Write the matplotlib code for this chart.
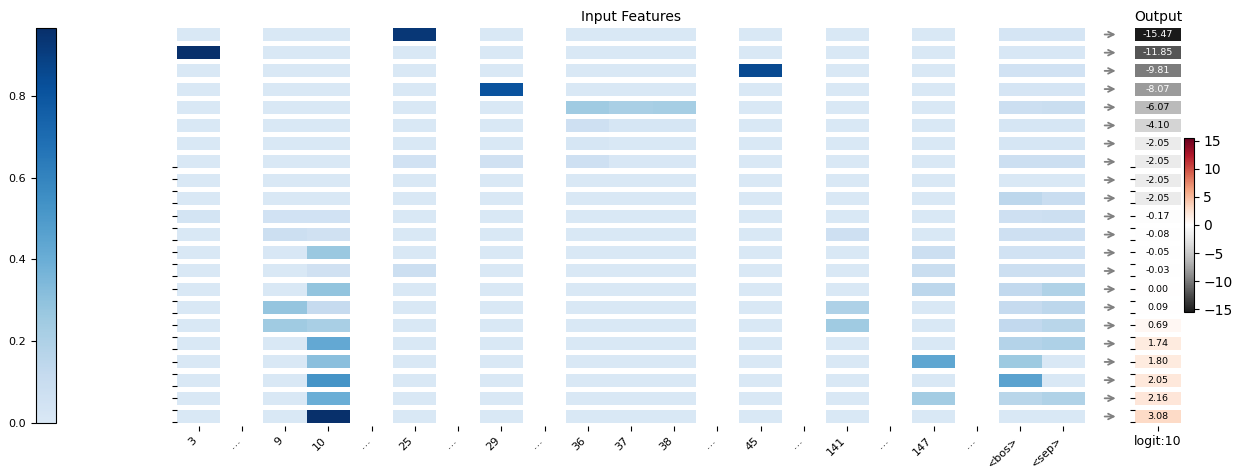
import numpy as np
import matplotlib
matplotlib.use("Agg")
import matplotlib.pyplot as plt
from matplotlib.colors import ListedColormap, Normalize
from matplotlib.colorbar import ColorbarBase

# feature activations per output row (22 rows, top to bottom)
col_labels = ["3", "…", "9", "10", "…", "25", "…", "29", "…", "36", "37", "38",
              "…", "45", "…", "141", "…", "147", "…", "<bos>", "<sep>"]

f3 = [0, 0.966, 0, 0, 0, 0, 0, 0, 0, 0, 0.04, 0, 0, 0, 0, 0, 0, 0, 0, 0, 0, 0]
f9 = [0, 0, 0, 0, 0, 0, 0, 0, 0, 0, 0.05, 0.08, 0.01, 0, 0, 0.28, 0.25, 0, 0, 0, 0, 0]
f10 = [0, 0, 0, 0, 0, 0, 0, 0, 0, 0, 0.05, 0.06, 0.27, 0.06, 0.29, 0.12, 0.22, 0.43, 0.31, 0.53, 0.40, 0.966]
f25 = [0.93, 0, 0, 0, 0, 0, 0, 0.05, 0, 0, 0, 0, 0, 0.08, 0, 0, 0, 0, 0, 0, 0, 0]
f29 = [0, 0, 0, 0.81, 0, 0, 0, 0.06, 0, 0, 0, 0, 0, 0, 0, 0, 0, 0, 0, 0, 0, 0]
f36 = [0, 0, 0, 0, 0.25, 0.07, 0.02, 0.07, 0, 0, 0, 0, 0, 0, 0, 0, 0, 0, 0, 0, 0, 0]
f37 = [0, 0, 0, 0, 0.22, 0.02, 0, 0.01, 0, 0, 0, 0, 0, 0, 0, 0, 0, 0, 0, 0, 0, 0]
f38 = [0, 0, 0, 0, 0.23, 0.02, 0, 0.01, 0, 0, 0, 0, 0, 0, 0, 0, 0, 0, 0, 0, 0, 0]
f45 = [0, 0, 0.85, 0, 0, 0, 0, 0, 0, 0, 0, 0, 0, 0, 0, 0, 0, 0, 0, 0, 0, 0]
f141 = [0, 0, 0, 0, 0, 0, 0, 0, 0, 0, 0, 0.07, 0, 0, 0, 0.20, 0.25, 0, 0, 0, 0, 0]
f147 = [0, 0, 0, 0, 0, 0, 0, 0, 0, 0, 0, 0, 0.08, 0.09, 0.15, 0, 0, 0, 0.44, 0, 0.24, 0]
f_bos = [0.03, 0.01, 0.05, 0.03, 0.08, 0.02, 0.02, 0.08, 0, 0.15, 0.07, 0.07,
         0.05, 0.08, 0.13, 0.12, 0.13, 0.18, 0.26, 0.46, 0.16, 0]
f_sep = [0.03, 0.01, 0.05, 0.03, 0.09, 0.02, 0.02, 0.08, 0, 0.10, 0.08, 0.07,
         0.05, 0.08, 0.19, 0.15, 0.16, 0.20, 0, 0, 0.19, 0]

logits = [-15.47, -11.85, -9.81, -8.07, -6.07, -4.10, -2.05, -2.05, -2.05, -2.05,
          -0.17, -0.08, -0.05, -0.03, 0.00, 0.09, 0.69, 1.74, 1.80, 2.05, 2.16, 3.08]
output_label = "logit:10"

# None marks a skipped ("…") column
columns = [f3, None, f9, f10, None, f25, None, f29, None, f36, f37, f38,
           None, f45, None, f141, None, f147, None, f_bos, f_sep]

n_rows = len(logits)
rows = np.arange(n_rows)
bar_h = 0.715

feat_max = max(max(c) for c in columns if c is not None)
blues = ListedColormap(plt.cm.Blues(np.linspace(0.15, 1.0, 256)))
feat_norm = Normalize(0, feat_max)
lim = max(abs(v) for v in logits)
out_cmap = plt.cm.RdGy_r
out_norm = Normalize(-lim, lim)

fig = plt.figure(figsize=(12.33, 4.68), dpi=100)
W, H = 1233, 468


def px_axes(x0, y0, x1, y1):
    return fig.add_axes([x0 / W, 1 - y1 / H, (x1 - x0) / W, (y1 - y0) / H])


# odd stray y ticks along the left edges
stray_ticks = np.linspace(7.28, 21.32, n_rows)

# --- input features heatmap ---
ax = px_axes(177, 25.4, 1085, 425.6)
for j, vals in enumerate(columns):
    if vals is None:
        continue
    ax.barh(rows, 1.0, left=j - 0.5, height=bar_h,
            color=blues(feat_norm(np.array(vals))), linewidth=0)
ax.set_xlim(-0.5, len(columns) - 0.5)
ax.set_ylim(n_rows - 0.5, -0.5)
ax.set_xticks(np.arange(len(columns)))
ax.set_xticklabels(col_labels, rotation=45, ha="right", fontsize=8)
ax.set_yticks(stray_ticks)
ax.set_yticklabels([])
ax.tick_params(length=3.5, width=0.8)
for s in ax.spines.values():
    s.set_visible(False)
ax.set_title("Input Features", fontsize=10, pad=3)

# --- output logits column ---
ax_out = px_axes(1135, 25.4, 1181, 425.6)
ax_out.barh(rows, 1.0, left=-0.5, height=bar_h,
            color=out_cmap(out_norm(np.array(logits))), linewidth=0)
for i, v in enumerate(logits):
    ax_out.text(0, i, f"{v:.2f}", ha="center", va="center", fontsize=6.8,
                color="white" if v < -7 else "black")
    ax_out.annotate("", xy=(-0.36, i), xytext=(-0.72, i),
                    xycoords=("axes fraction", "data"),
                    textcoords=("axes fraction", "data"),
                    arrowprops=dict(arrowstyle="->", color="gray", lw=1.3),
                    annotation_clip=False)
ax_out.set_xlim(-0.5, 0.5)
ax_out.set_ylim(n_rows - 0.5, -0.5)
ax_out.set_xticks([0])
ax_out.set_xticklabels([output_label], fontsize=9)
ax_out.set_yticks(stray_ticks)
ax_out.set_yticklabels([])
ax_out.tick_params(length=3.5, width=0.8)
for s in ax_out.spines.values():
    s.set_visible(False)
ax_out.set_title("Output", fontsize=10, pad=3)

# --- colorbars ---
cax_l = px_axes(36, 28, 56, 423)
cb_l = ColorbarBase(cax_l, cmap=blues, norm=feat_norm)
cb_l.set_ticks([0.0, 0.2, 0.4, 0.6, 0.8])
cax_l.yaxis.set_ticks_position("left")
cax_l.tick_params(labelsize=8, length=3.5)

cax_r = px_axes(1183.5, 138, 1193.5, 312)
cb_r = ColorbarBase(cax_r, cmap=out_cmap, norm=out_norm)
cb_r.set_ticks([-15, -10, -5, 0, 5, 10, 15])
cax_r.tick_params(labelsize=10, length=3.5)

fig.savefig("out.png", dpi=100)
